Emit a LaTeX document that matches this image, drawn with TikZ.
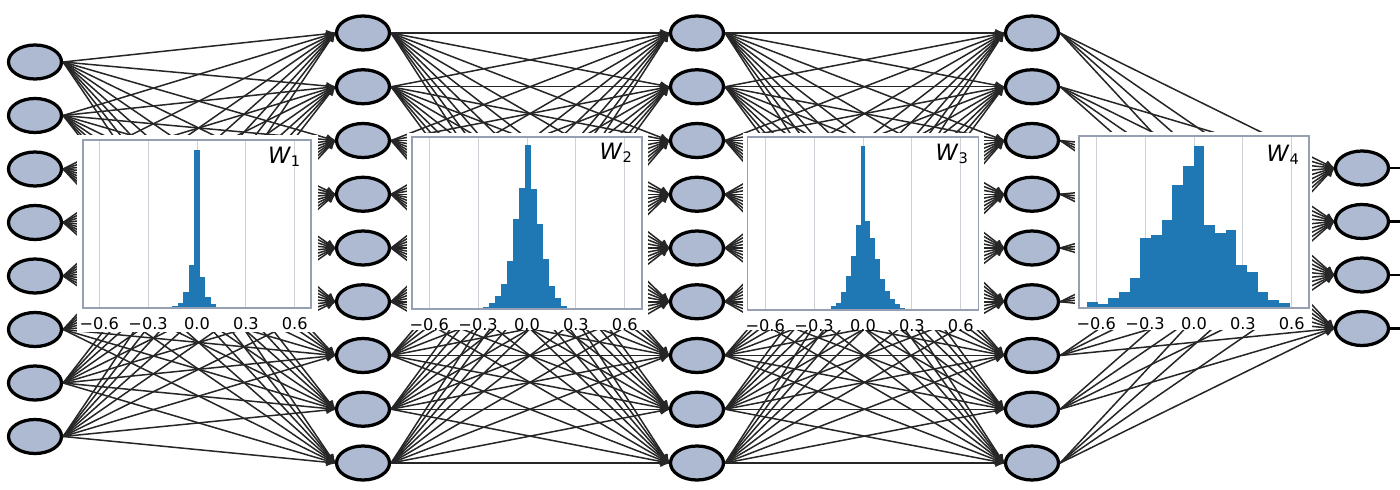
\documentclass[tikz,border=0pt]{standalone}
\usepackage{fontspec}
\usetikzlibrary{arrows,shapes.geometric}
\newfontfamily\plotfont{DejaVu Sans}

\definecolor{neuronfill}{RGB}{174,186,210}
\definecolor{histblue}{RGB}{31,119,180}
\definecolor{framegray}{RGB}{150,160,178}
\definecolor{gridgray}{RGB}{205,208,214}

\tikzset{
  neuron/.style={ellipse, draw=black, line width=0.65mm, fill=neuronfill,
    minimum width=10.6mm, minimum height=6.8mm, inner sep=0pt},
  synapse/.style={->, >=stealth', draw=black!85, line width=0.3mm},
  output line/.style={draw=black, line width=0.5mm},
  panel/.style={fill=white},
  axframe/.style={draw=framegray, line width=0.25mm},
  grid line/.style={draw=gridgray, line width=0.2mm},
  histbar/.style={fill=histblue},
  tick label/.style={font=\plotfont\fontsize{9.2}{10}\selectfont, anchor=north, inner sep=0pt},
  histtitle/.style={font=\plotfont\fontsize{12.8}{14}\selectfont\itshape, anchor=north east, inner sep=0pt}
}
\newcommand{\wsub}[1]{W\kern0.3pt\raisebox{-1.4pt}{\fontsize{8.3}{9}\selectfont\upshape #1}}

\begin{document}
\begin{tikzpicture}[x=0.2mm,y=-0.2mm]
  \useasboundingbox (0,0) rectangle (1400,490);
  \fill[white] (0,0) rectangle (1400,490);

  % neurons
  \foreach \i in {1,...,8}
    \node[neuron] (in-\i) at (35,{62+(\i-1)*53.5}) {};
  \foreach \l/\x in {1/363,2/697,3/1032}
    \foreach \i in {1,...,9}
      \node[neuron] (h\l-\i) at (\x,{33+(\i-1)*53.75}) {};
  \foreach \i in {1,...,4}
    \node[neuron] (out-\i) at (1362,{168+(\i-1)*53.5}) {};

  % connections
  \foreach \i in {1,...,8}
    \foreach \j in {1,...,9}
      \draw[synapse] (in-\i.east) -- (h1-\j.west);
  \foreach \a/\b in {h1/h2,h2/h3}
    \foreach \i in {1,...,9}
      \foreach \j in {1,...,9}
        \draw[synapse] (\a-\i.east) -- (\b-\j.west);
  \foreach \i in {1,...,9}
    \foreach \j in {1,...,4}
      \draw[synapse] (h3-\i.east) -- (out-\j.west);
  \foreach \i in {1,...,4} {
    \coordinate (end-\i) at (1400,{168+(\i-1)*53.5});
    \draw[output line] (out-\i.east) -- (end-\i);
  }

  % W_1
  \begin{scope}[shift={(197,308)}, xscale=163, yscale=-1]
    \fill[panel] (-0.735,-24) rectangle (0.74,173);
    \foreach \t in {-0.6,-0.3,0,0.3,0.6}
      \draw[grid line] (\t,0) -- (\t,168);
    \foreach \h [count=\k from 0] in {1,2,5.5,16,43,158,31,11,4,1,0.5}
      \fill[histbar] ({-0.187+\k*0.034},0) rectangle ++(0.034,\h);
    \draw[axframe] (-0.7,0) rectangle (0.7,168);
    \foreach \t/\lab [count=\n] in {-0.6/−0.6,-0.3/−0.3,0/0.0,0.3/0.3,0.6/0.6}
      \node[tick label] (w1-tick\n) at (\t,-9) {\lab};
    \node[histtitle] (w1-title) at (0.635,161) {\wsub{1}};
  \end{scope}

  % W_2
  \begin{scope}[shift={(527,309)}, xscale=163, yscale=-1]
    \fill[panel] (-0.735,-21) rectangle (0.74,176);
    \foreach \t in {-0.6,-0.3,0,0.3,0.6}
      \draw[grid line] (\t,0) -- (\t,172);
    \foreach \h [count=\k from 0] in {2,6,13,25,48,90,121,164,120,85,50,23,11,3,1}
      \fill[histbar] ({-0.272+\k*0.037},0) rectangle ++(0.037,\h);
    \draw[axframe] (-0.705,0) rectangle (0.705,172);
    \foreach \t/\lab [count=\n] in {-0.6/−0.6,-0.3/−0.3,0/0.0,0.3/0.3,0.6/0.6}
      \node[tick label] (w2-tick\n) at (\t,-9) {\lab};
    \node[histtitle] (w2-title) at (0.645,166) {\wsub{2}};
  \end{scope}

  % W_3
  \begin{scope}[shift={(863,310)}, xscale=163, yscale=-1]
    \fill[panel] (-0.735,-20) rectangle (0.74,177);
    \foreach \t in {-0.6,-0.3,0,0.3,0.6}
      \draw[grid line] (\t,0) -- (\t,173);
    \foreach \h [count=\k from 0] in {1,4,7,18,34,54,85,164,89,72,51,31,19,11,6,2,1}
      \fill[histbar] ({-0.225+\k*0.03},0) rectangle ++(0.03,\h);
    \draw[axframe] (-0.71,0) rectangle (0.71,173);
    \foreach \t/\lab [count=\n] in {-0.6/−0.6,-0.3/−0.3,0/0.0,0.3/0.3,0.6/0.6}
      \node[tick label] (w3-tick\n) at (\t,-9) {\lab};
    \node[histtitle] (w3-title) at (0.645,166) {\wsub{3}};
  \end{scope}

  % W_4
  \begin{scope}[shift={(1194,308)}, xscale=163, yscale=-1]
    \fill[panel] (-0.73,-22) rectangle (0.725,176);
    \foreach \t in {-0.6,-0.3,0,0.3,0.6}
      \draw[grid line] (\t,0) -- (\t,172);
    \foreach \h [count=\k from 0] in {5.7,4,10,16,30,70,73,88,123,142,162,83,75,78,43,36,16,8,5}
      \fill[histbar] ({-0.657+\k*0.0655},0) rectangle ++(0.0655,\h);
    \draw[axframe] (-0.705,0) rectangle (0.705,172);
    \foreach \t/\lab [count=\n] in {-0.6/−0.6,-0.3/−0.3,0/0.0,0.3/0.3,0.6/0.6}
      \node[tick label] (w4-tick\n) at (\t,-9) {\lab};
    \node[histtitle] (w4-title) at (0.645,163) {\wsub{4}};
  \end{scope}
\end{tikzpicture}
\end{document}
